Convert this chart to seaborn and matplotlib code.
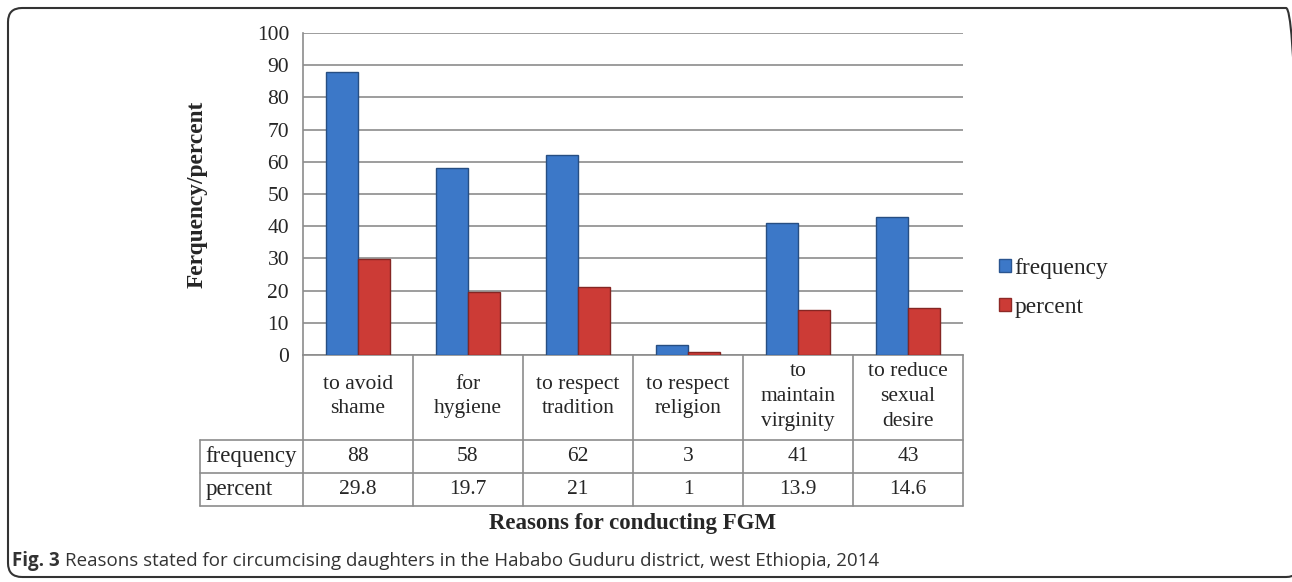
import matplotlib
matplotlib.use("Agg")
import matplotlib.pyplot as plt
import seaborn as sns
import pandas as pd
from matplotlib.lines import Line2D
from matplotlib.patches import FancyBboxPatch
from matplotlib.transforms import IdentityTransform

# Data
categories = ["to avoid\nshame", "for\nhygiene", "to respect\ntradition",
              "to respect\nreligion", "to\nmaintain\nvirginity", "to reduce\nsexual\ndesire"]
frequency = [88, 58, 62, 3, 41, 43]
percent = [29.8, 19.7, 21, 1, 13.9, 14.6]
series_names = ["frequency", "percent"]
y_ticks = [0, 10, 20, 30, 40, 50, 60, 70, 80, 90, 100]

blue = "#3C78C8"
red = "#CC3B36"
grid_gray = "#8C8C8C"

sns.set_style("white")
plt.rcParams['font.family'] = ['Liberation Serif', 'DejaVu Serif']

df = pd.DataFrame({
    "reason": categories * 2,
    "series": [series_names[0]] * len(categories) + [series_names[1]] * len(categories),
    "value": frequency + percent,
})

W, H = 1292, 582
fig = plt.figure(figsize=(W / 100, H / 100), dpi=100)
# plot area: x 303..963, y 33..355 (pixels from top)
ax = fig.add_axes([303 / W, 1 - 355 / H, 660 / W, 322 / H])

sns.barplot(data=df, x="reason", y="value", hue="series", palette=[blue, red],
            saturation=1, width=0.58, gap=0, ax=ax, legend=False, zorder=3)

# darker edges to mimic the bevelled bars
for patch in ax.patches:
    fc = patch.get_facecolor()
    patch.set_edgecolor(tuple(c * 0.65 for c in fc[:3]))
    patch.set_linewidth(1.0)

ax.set_ylim(0, 100)
ax.set_xlim(-0.5, len(categories) - 0.5)
ax.set_yticks(y_ticks)
ax.yaxis.grid(True, color=grid_gray, linewidth=1.2, zorder=0)
ax.set_axisbelow(True)
for s in ["top", "right"]:
    ax.spines[s].set_visible(False)
for s in ["left", "bottom"]:
    ax.spines[s].set_color(grid_gray)
    ax.spines[s].set_linewidth(1.2)
ax.tick_params(axis="y", length=5, width=1.2, color=grid_gray, labelsize=15.5, pad=5)
ax.tick_params(axis="x", length=0, labelbottom=False)
ax.set_xlabel("")
ax.set_ylabel("Ferquency/percent", fontsize=16.8, fontweight="bold")
ax.yaxis.set_label_coords(-0.145, 0.5)

# data table below the plot
tr = ax.get_xaxis_transform()
n = len(categories)
row_y = [0, -85 / 322, -118 / 322, -151 / 322]
left_x = -0.5 - 103 / 110
line_kw = dict(color=grid_gray, linewidth=1.2, transform=tr, clip_on=False)
for y in row_y[1:]:
    ax.add_line(Line2D([left_x, n - 0.5], [y, y], **line_kw))
for i in range(n + 1):
    ax.add_line(Line2D([i - 0.5, i - 0.5], [row_y[0], row_y[3]], **line_kw))
ax.add_line(Line2D([left_x, left_x], [row_y[1], row_y[3]], **line_kw))

for i, cat in enumerate(categories):
    ax.text(i, (row_y[0] + row_y[1]) / 2 + 0.003, cat, transform=tr, ha="center",
            va="center", fontsize=15.5, linespacing=1.4)
    ax.text(i, (row_y[1] + row_y[2]) / 2, f"{frequency[i]:g}", transform=tr,
            ha="center", va="center", fontsize=15.5)
    ax.text(i, (row_y[2] + row_y[3]) / 2, f"{percent[i]:g}", transform=tr,
            ha="center", va="center", fontsize=15.5)
ax.text(left_x + 0.05, (row_y[1] + row_y[2]) / 2, series_names[0], transform=tr,
        ha="left", va="center", fontsize=16.5)
ax.text(left_x + 0.05, (row_y[2] + row_y[3]) / 2, series_names[1], transform=tr,
        ha="left", va="center", fontsize=16.5)

fig.text(633 / W, 1 - 524 / H, "Reasons for conducting FGM", ha="center", va="center",
         fontsize=16.5, fontweight="bold")

# legend
handles = [plt.Rectangle((0, 0), 1, 1, facecolor=blue, edgecolor="#2A5590"),
           plt.Rectangle((0, 0), 1, 1, facecolor=red, edgecolor="#8E2926")]
fig.legend(handles, series_names, loc="center left", bbox_to_anchor=(990 / W, 1 - 288 / H),
           frameon=False, fontsize=16.8, handlelength=0.5, handleheight=0.5,
           handletextpad=0.15, labelspacing=0.78, borderaxespad=0)

# rounded frame around the figure
frame = FancyBboxPatch((8, 5), 1292, H - 13, boxstyle="round,pad=0,rounding_size=14",
                       transform=IdentityTransform(), facecolor="none",
                       edgecolor="#333333", linewidth=1.5)
fig.add_artist(frame)

# caption
cap_y = 1 - 561 / H
t1 = fig.text(12 / W, cap_y, "Fig. 3", ha="left", va="center", fontsize=13.5,
              fontweight="bold", family=["Open Sans", "DejaVu Sans"], color="#333333")
fig.canvas.draw()
bb = t1.get_window_extent()
fig.text((bb.x1 + 5) / W, cap_y,
         "Reasons stated for circumcising daughters in the Hababo Guduru district, west Ethiopia, 2014",
         ha="left", va="center", fontsize=13.5, family=["Open Sans", "DejaVu Sans"],
         color="#333333")

fig.savefig("out.png", dpi=100)
